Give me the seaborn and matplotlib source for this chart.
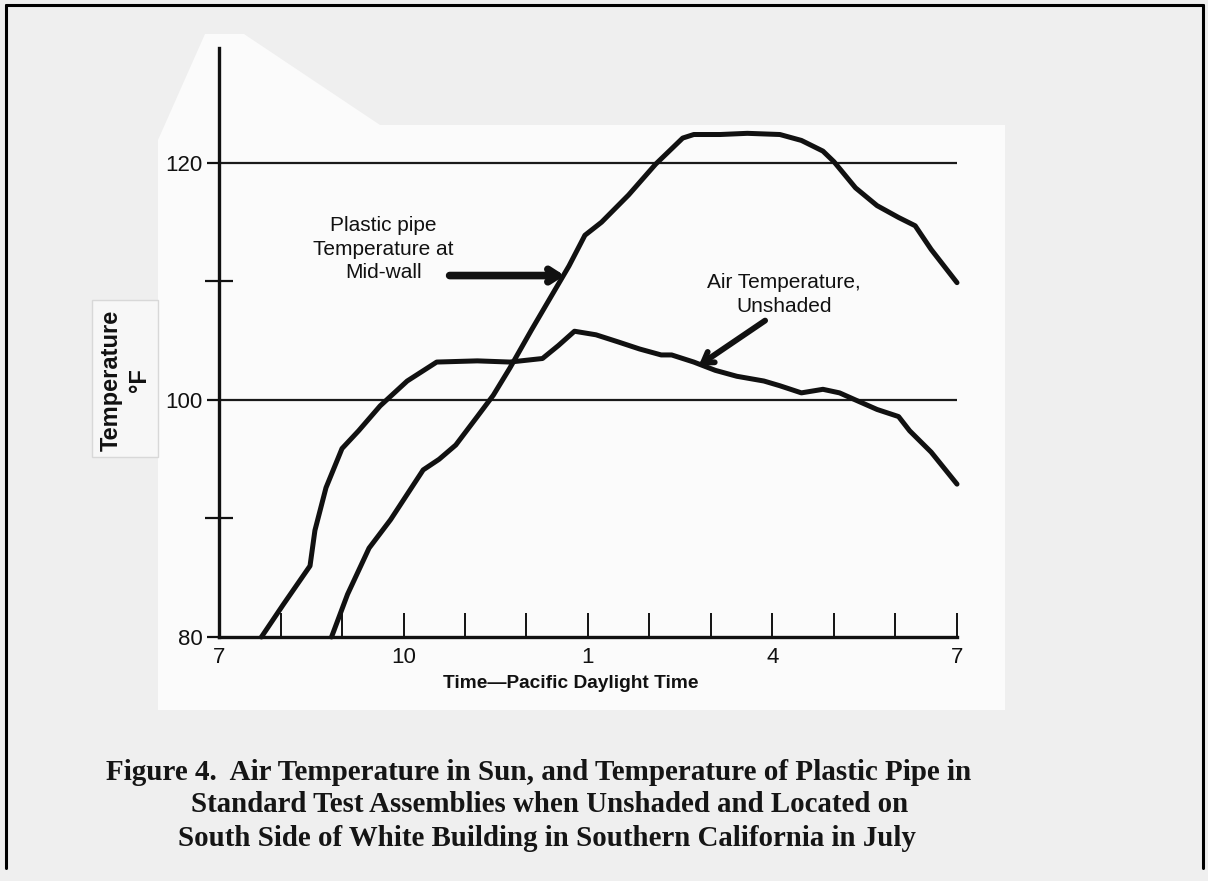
import numpy as np
import pandas as pd
import matplotlib
matplotlib.use("Agg")
import matplotlib.pyplot as plt
from matplotlib.lines import Line2D
from matplotlib.patches import Polygon, Rectangle
from matplotlib.ticker import FixedLocator, FixedFormatter
import seaborn as sns

# ---------------- data ----------------
pipe_hours = [8.83, 9.09, 9.44, 9.79, 10.32, 10.58, 10.85, 11.20, 11.46, 11.73,
              12.08, 12.43, 12.69, 12.95, 13.22, 13.66, 14.10, 14.54, 14.72, 15.15,
              15.59, 16.12, 16.47, 16.82, 17.00, 17.35, 17.70, 18.05, 18.32, 18.58, 19.00]
pipe_temps = [80.0, 83.6, 87.5, 89.9, 94.1, 95.0, 96.2, 98.6, 100.4, 102.7,
              105.9, 109.0, 111.3, 113.9, 115.0, 117.3, 119.9, 122.1, 122.4, 122.4,
              122.5, 122.4, 121.9, 121.0, 120.1, 117.9, 116.4, 115.4, 114.7, 112.7, 109.9]

air_hours = [7.69, 8.04, 8.48, 8.56, 8.74, 9.00, 9.27, 9.62, 10.06, 10.54,
             11.20, 11.73, 12.26, 12.52, 12.78, 13.13, 13.49, 13.84, 14.19, 14.36,
             14.72, 15.07, 15.42, 15.86, 16.12, 16.47, 16.82, 17.09, 17.35, 17.70,
             18.05, 18.23, 18.58, 19.00]
air_temps = [80.0, 82.7, 86.0, 89.0, 92.6, 95.9, 97.4, 99.5, 101.6, 103.2,
             103.3, 103.2, 103.5, 104.6, 105.8, 105.5, 104.9, 104.3, 103.8, 103.8,
             103.2, 102.5, 102.0, 101.6, 101.2, 100.6, 100.9, 100.6, 100.0, 99.2,
             98.6, 97.4, 95.6, 92.9]

x_tick_hours = [7, 8, 9, 10, 11, 12, 13, 14, 15, 16, 17, 18, 19]
x_label_hours = [7, 10, 13, 16, 19]
x_label_text = ["7", "10", "1", "4", "7"]
y_label_values = [80, 100, 120]
y_minor_values = [90, 110]
grid_values = [100, 120]

pipe_name = "Plastic pipe\nTemperature at\nMid-wall"
air_name = "Air Temperature,\nUnshaded"
x_title = "Time\u2014Pacific Daylight Time"
y_title = "Temperature\n\u00b0F"
caption_lines = [
    "Figure 4.  Air Temperature in Sun, and Temperature of Plastic Pipe in",
    "Standard Test Assemblies when Unshaded and Located on",
    "South Side of White Building in Southern California in July",
]

df = pd.concat([
    pd.DataFrame({"hour": pipe_hours, "temp": pipe_temps, "series": "pipe"}),
    pd.DataFrame({"hour": air_hours, "temp": air_temps, "series": "air"}),
])

# ---------------- style ----------------
sns.set_style("white")
plt.rcParams['font.family'] = ['Liberation Sans', 'DejaVu Sans']

W, H = 1208, 881
fig = plt.figure(figsize=(W / 100, H / 100), dpi=100, facecolor='#efefef')

def fx(px):
    return px / W

def fy(py):
    return 1 - py / H

# paper pieces (background)
paper = Polygon([(fx(158), fy(710)), (fx(158), fy(140)), (fx(205), fy(34)),
                 (fx(244), fy(34)), (fx(380), fy(125)), (fx(1005), fy(125)),
                 (fx(1005), fy(710))], closed=True, transform=fig.transFigure,
                facecolor='#fbfbfb', edgecolor='none', zorder=-5)
fig.patches.append(paper)
label_paper = Rectangle((fx(92), fy(457)), fx(158) - fx(92), fy(300) - fy(457),
                        transform=fig.transFigure, facecolor='#f7f7f7',
                        edgecolor='#d8d8d8', lw=1, zorder=-4)
fig.patches.append(label_paper)

ax = fig.add_axes([fx(219), fy(637), fx(957) - fx(219), fy(48) - fy(637)])
ax.set_facecolor('none')
ax.set_zorder(2)

sns.lineplot(data=df, x="hour", y="temp", units="series", estimator=None,
             sort=False, color="#111111", lw=3.6, ax=ax, legend=False)
for ln in ax.lines:
    ln.set_solid_capstyle('round')
    ln.set_solid_joinstyle('round')
    ln.set_clip_on(False)

for g in grid_values:
    ax.axhline(g, color='#1a1a1a', lw=1.6, zorder=1)

ax.set_xlim(7, 19)
ax.set_ylim(80, 129.7)

for s in ['top', 'right']:
    ax.spines[s].set_visible(False)
for s in ['left', 'bottom']:
    ax.spines[s].set_color('#111111')
    ax.spines[s].set_linewidth(2.4)

# x ticks: every hour, pointing up, labels at some
ax.xaxis.set_major_locator(FixedLocator(x_tick_hours))
ax.xaxis.set_major_formatter(FixedFormatter(
    [x_label_text[x_label_hours.index(h)] if h in x_label_hours else "" for h in x_tick_hours]))
ax.tick_params(axis='x', which='major', bottom=True, direction='in', length=17,
               width=1.4, color='#111111', pad=7, labelsize=16, labelcolor='#111111')

# y ticks
ax.yaxis.set_major_locator(FixedLocator(y_label_values))
ax.yaxis.set_major_formatter(FixedFormatter([str(v) for v in y_label_values]))
ax.yaxis.set_minor_locator(FixedLocator(y_minor_values))
ax.tick_params(axis='y', which='major', left=True, direction='out', length=9,
               width=1.6, color='#111111', pad=3, labelsize=16, labelcolor='#111111')
ax.tick_params(axis='y', which='minor', left=True, direction='inout', length=20,
               width=1.6, color='#111111')

ax.set_xlabel("")
ax.set_ylabel("")

# axis titles
fig.text(fx(571), fy(683), x_title, ha='center', va='center', fontsize=13.8,
         fontweight='bold', color='#111111')
fig.text(fx(125), fy(380), y_title, ha='center', va='center', fontsize=17,
         fontweight='bold', rotation=90, color='#111111', linespacing=1.3)

# annotations
ax.text(9.67, 112.7, pipe_name, transform=ax.transData, ha='center', va='center',
        fontsize=15, color='#111111', linespacing=1.3)
ax.annotate("", xy=(12.62, 110.5), xytext=(10.75, 110.5),
            arrowprops=dict(arrowstyle='->, head_length=0.7, head_width=0.45',
                            lw=5.5, color='#111111', shrinkA=0, shrinkB=0))
ax.text(16.19, 108.9, air_name, transform=ax.transData, ha='center', va='center',
        fontsize=15, color='#111111', linespacing=1.3)
ax.annotate("", xy=(14.80, 102.9), xytext=(15.88, 106.7),
            arrowprops=dict(arrowstyle='->, head_length=0.7, head_width=0.45',
                            lw=4.2, color='#111111', shrinkA=0, shrinkB=0))

# caption
cap_font = ['Liberation Serif', 'DejaVu Serif']
fig.text(fx(106), fy(772), caption_lines[0], ha='left', va='center',
         fontsize=21, fontweight='bold', family=cap_font, color='#151515')
fig.text(fx(550), fy(805), caption_lines[1], ha='center', va='center',
         fontsize=20.8, fontweight='bold', family=cap_font, color='#151515')
fig.text(fx(547), fy(838), caption_lines[2], ha='center', va='center',
         fontsize=20.8, fontweight='bold', family=cap_font, color='#151515')

# outer frame (left, top, right)
frame_kw = dict(transform=fig.transFigure, color='black', lw=2.2)
fig.lines.append(Line2D([fx(6), fx(6)], [fy(868), fy(5)], **frame_kw))
fig.lines.append(Line2D([fx(6), fx(1203)], [fy(5), fy(5)], **frame_kw))
fig.lines.append(Line2D([fx(1203), fx(1203)], [fy(5), fy(868)], **frame_kw))

fig.savefig("out.png", dpi=100, facecolor=fig.get_facecolor())
